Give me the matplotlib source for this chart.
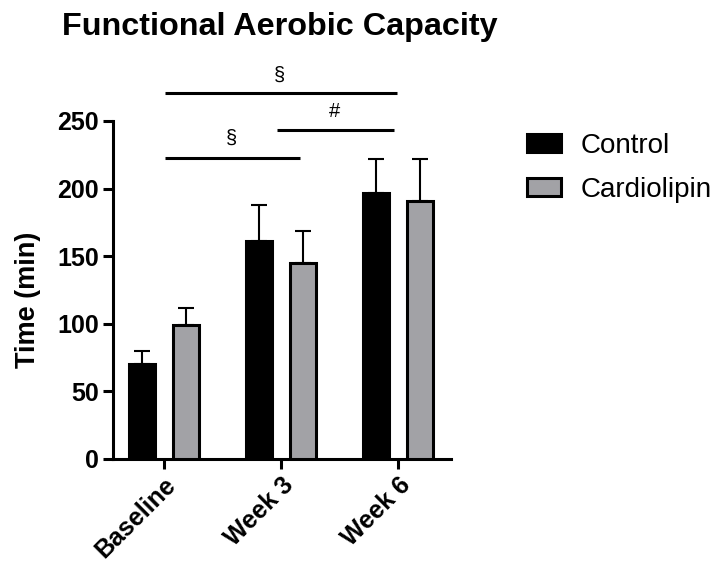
import matplotlib
matplotlib.use("Agg")
import matplotlib.pyplot as plt
import numpy as np

plt.rcParams['font.family'] = ['Liberation Sans', 'DejaVu Sans']

categories = ["Baseline", "Week 3", "Week 6"]
control = [70, 161, 197]
control_err = [10, 27, 25]
cardiolipin = [99, 145, 191]
cardiolipin_err = [13, 24, 31]
series_names = ["Control", "Cardiolipin"]

# significance annotations: (x_start, x_end, y, label)
sig_lines = [(0.01, 1.99, 271, "§"), (0.97, 1.97, 243, "#"), (0.01, 1.16, 223, "§")]
sig_text_pos = [(0.99, 284), (1.46, 257), (0.58, 237)]

fig = plt.figure(figsize=(7.17, 5.71), dpi=100)
ax = fig.add_axes([113/717, 1-459/571, (451-113)/717, (459-121)/571])

x = np.arange(len(categories))
w = 0.22
off = 0.19
lw = 2.2
b1 = ax.bar(x - off, control, w, color='black', edgecolor='black', linewidth=lw, label=series_names[0], zorder=3)
b2 = ax.bar(x + off, cardiolipin, w, color='#A2A2A6', edgecolor='black', linewidth=lw, label=series_names[1], zorder=3)
ax.errorbar(x - off, control, yerr=[np.zeros(3), control_err], fmt='none', ecolor='black',
            elinewidth=1.5, capsize=5.5, capthick=1.5, zorder=2)
ax.errorbar(x + off, cardiolipin, yerr=[np.zeros(3), cardiolipin_err], fmt='none', ecolor='black',
            elinewidth=1.5, capsize=5.5, capthick=1.5, zorder=2)

ax.set_xlim(-0.436, 2.453)
ax.set_ylim(0, 250)
ax.set_yticks([0, 50, 100, 150, 200, 250])
ax.set_xticks(x)
ax.set_xticklabels(categories, rotation=45, ha='right', rotation_mode='anchor',
                   fontsize=18, fontweight='bold')
for lab in ax.get_yticklabels():
    lab.set_fontsize(18)
    lab.set_fontweight('bold')
ax.tick_params(axis='both', width=2.2, length=7, direction='out', pad=3)
for s in ['top', 'right']:
    ax.spines[s].set_visible(False)
for s in ['left', 'bottom']:
    ax.spines[s].set_linewidth(2.2)

ax.set_ylabel("Time (min)", fontsize=19.5, fontweight='bold')
ax.yaxis.set_label_coords(-0.213, 0.47)

for (x0, x1, yy, lab), (tx, ty) in zip(sig_lines, sig_text_pos):
    ax.plot([x0, x1], [yy, yy], color='black', lw=2.2, clip_on=False, solid_capstyle='butt')
    ax.text(tx, ty, lab, ha='center', va='center', fontsize=14.5, clip_on=False)

fig.text(280/717, 1-27/571, "Functional Aerobic Capacity", ha='center', va='center',
         fontsize=23.3, fontweight='bold')

leg = fig.legend(handles=[b1, b2], labels=series_names, loc='upper left',
                 bbox_to_anchor=(527/717, 1-133/571), frameon=False, fontsize=20,
                 handlelength=1.22, handleheight=0.6, handletextpad=0.7, labelspacing=0.65,
                 borderaxespad=0, borderpad=0)

fig.savefig("out.png", dpi=100)
